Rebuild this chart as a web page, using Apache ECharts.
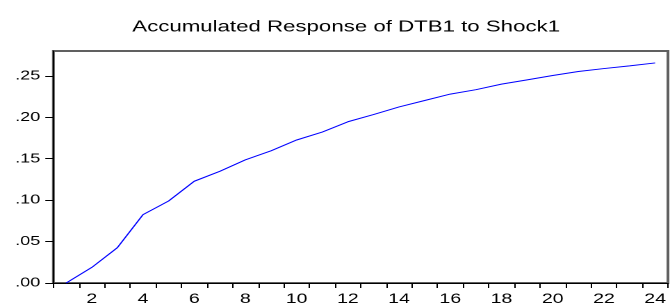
<!DOCTYPE html>
<html>
<head>
<meta charset="utf-8">
<script src="https://cdn.jsdelivr.net/npm/echarts@6/dist/echarts.min.js"></script>
<style>
html,body{margin:0;padding:0;background:#fff;overflow:hidden;width:670px;height:306px;}
#chart{width:482px;height:306px;transform:scaleX(1.39);transform-origin:0 0;}
</style>
</head>
<body>
<div id="chart"></div>
<script>
var titleText = 'Accumulated Response of DTB1 to Shock1';
var periods = ['1','2','3','4','5','6','7','8','9','10','11','12','13','14','15','16','17','18','19','20','21','22','23','24'];
var response = [0.000, 0.0188, 0.0427, 0.0825, 0.0990, 0.1228, 0.1348, 0.1487, 0.1595, 0.1726, 0.1822, 0.1946, 0.2033, 0.2125, 0.2203, 0.2280, 0.2333, 0.2400, 0.2452, 0.2504, 0.2552, 0.2588, 0.2620, 0.2656];
var yTicks = [0, 0.05, 0.10, 0.15, 0.20, 0.25];
var yMin = 0, yMax = 0.28;

// The reference picture is stretched horizontally by about 1.39;
// the chart is laid out in a 482px-wide box and widened by CSS.
var chart = echarts.init(document.getElementById('chart'), null, {renderer: 'canvas', devicePixelRatio: 2});
var font = 'Liberation Sans, Arial, sans-serif';
chart.setOption({
  animation: false,
  backgroundColor: '#ffffff',
  title: {
    text: titleText,
    left: 244,
    top: 14,
    textAlign: 'center',
    textStyle: {fontFamily: font, fontSize: 16, fontWeight: 'normal', color: '#000'}
  },
  grid: {
    left: 38.4, top: 51, width: 447.2, height: 234,
    show: true, borderColor: '#606060', borderWidth: 2, backgroundColor: 'transparent'
  },
  xAxis: {
    type: 'category',
    data: periods,
    boundaryGap: true,
    axisLine: {show: true, lineStyle: {color: '#000', width: 1}},
    axisTick: {show: true, interval: 0, length: 5, inside: false, lineStyle: {color: '#000'}},
    axisLabel: {
      interval: function (i) { return i % 2 === 1; },
      margin: 9,
      fontFamily: font, fontSize: 14, color: '#000'
    },
    splitLine: {show: false}
  },
  yAxis: {
    type: 'value',
    min: yMin, max: yMax,
    axisLine: {show: true, lineStyle: {color: '#000', width: 1}},
    axisTick: {show: true, length: 5.8, inside: false, customValues: yTicks, lineStyle: {color: '#000'}},
    axisLabel: {
      customValues: yTicks,
      margin: 9.4,
      fontFamily: font, fontSize: 13, color: '#000',
      formatter: function (v) { return v.toFixed(2).replace(/^0/, ''); }
    },
    splitLine: {show: false}
  },
  series: [{
    type: 'line',
    data: response,
    showSymbol: false,
    symbol: 'none',
    lineStyle: {color: '#0000ff', width: 1},
    silent: true
  }]
});
</script>
</body>
</html>
